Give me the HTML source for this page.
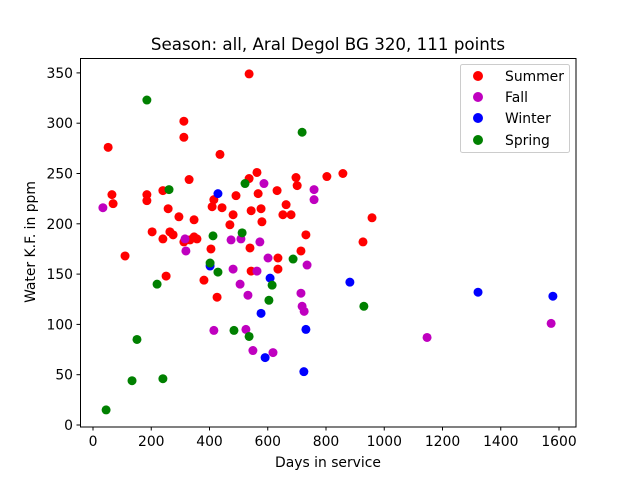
<!DOCTYPE html>
<html><head><meta charset="utf-8"><style>
body{margin:0;background:#fff}
svg{display:block;font-family:"DejaVu Sans","Liberation Sans",sans-serif}
</style></head><body>
<svg id="chart" width="640" height="480">
<rect width="640" height="480" fill="#fff"/>
<g id="marks"></g>
<g id="axes"></g>
<text x="328" y="50" text-anchor="middle" font-size="16.7">Season: all, Aral Degol BG 320, 111 points</text>
<text x="328" y="467" text-anchor="middle" font-size="13.9">Days in service</text>
<text transform="translate(35,242) rotate(-90)" text-anchor="middle" font-size="13.9">Water K.F. in ppm</text>
<g>
<rect x="460.5" y="64.5" width="109" height="88" rx="2" fill="#fff" fill-opacity="0.8" stroke="#ccc"/>
<g><circle cx="478" cy="76" r="5" fill="#ff0000"/><text x="505" y="81" font-size="13.9">Summer</text></g>
<g><circle cx="478" cy="97" r="5" fill="#bf00bf"/><text x="505" y="102" font-size="13.9">Fall</text></g>
<g><circle cx="478" cy="118" r="5" fill="#0000ff"/><text x="505" y="123" font-size="13.9">Winter</text></g>
<g><circle cx="478" cy="140" r="5" fill="#008000"/><text x="505" y="145" font-size="13.9">Spring</text></g>
</g>
</svg>
<script>
const summerX=[52,65,69,110,185,185,203,240,240,251,258,264,275,295,312,312,312,330,333,347,357,347,381,405,409,415,426,436,443,470,481,491,536,536,539,543,543,563,567,577,580,632,635,635,652,663,680,697,701,714,731,803,858,927,958];
const summerY=[276,229,220,168,229,223,192,233,185,148,215,192,189,207,302,286,182,244,184,187,185,204,144,175,217,224,127,269,216,199,209,228,349,245,176,213,153,251,230,215,202,233,166,155,209,219,209,246,238,173,189,247,250,182,206];
const fallX=[34,316,319,474,508,587,573,601,481,563,505,532,415,525,549,618,714,718,725,735,759,759,1147,1573];
const fallY=[216,185,173,184,185,240,182,166,155,153,140,129,94,95,74,72,131,118,113,159,234,224,87,101];
const winterX=[429,402,608,577,591,731,724,882,1322,1579];
const winterY=[230,158,146,111,67,95,53,142,132,128];
const springX=[185,718,261,522,512,412,402,429,687,615,604,220,484,536,151,134,240,45,930];
const springY=[323,291,234,240,191,188,161,152,165,139,124,140,94,88,85,44,46,15,118];
const xTicks=[0,200,400,600,800,1000,1200,1400,1600];
const yTicks=[0,50,100,150,200,250,300,350];
const NS='http://www.w3.org/2000/svg';
function sx(v){return 93+v*0.29125;}
function sy(v){return 425-v*1.006;}
const marks=document.getElementById('marks');
const axes=document.getElementById('axes');
function mk(tag,attrs,parent){const e=document.createElementNS(NS,tag);for(const k in attrs)e.setAttribute(k,attrs[k]);parent.appendChild(e);return e;}
const series=[['summer',summerX,summerY,'#ff0000'],['fall',fallX,fallY,'#bf00bf'],['winter',winterX,winterY,'#0000ff'],['spring',springX,springY,'#008000']];
series.forEach(s=>{
  for(let i=0;i<s[1].length;i++){
    const c=mk('circle',{cx:sx(s[1][i]),cy:sy(s[2][i]),r:4.5,fill:s[3]},marks);
    
    
  }
});
const frame=mk('rect',{x:80.5,y:58.5,width:495.5,height:368.5,fill:'none',stroke:'#000','stroke-width':1},axes);


xTicks.forEach(t=>{
  const x=sx(t);
  const l=mk('line',{x1:x,x2:x,y1:427,y2:430.5,stroke:'#000'},axes);
  
  
  const tx=mk('text',{x:x,y:446,'text-anchor':'middle','font-size':13.9},axes);
  tx.textContent=t;
  
  
});
yTicks.forEach(t=>{
  const y=sy(t);
  const l=mk('line',{x1:76.5,x2:80,y1:y,y2:y,stroke:'#000'},axes);
  
  
  const tx=mk('text',{x:73,y:y+5,'text-anchor':'end','font-size':13.9},axes);
  tx.textContent=t;
  
  
});
</script>
</body></html>
